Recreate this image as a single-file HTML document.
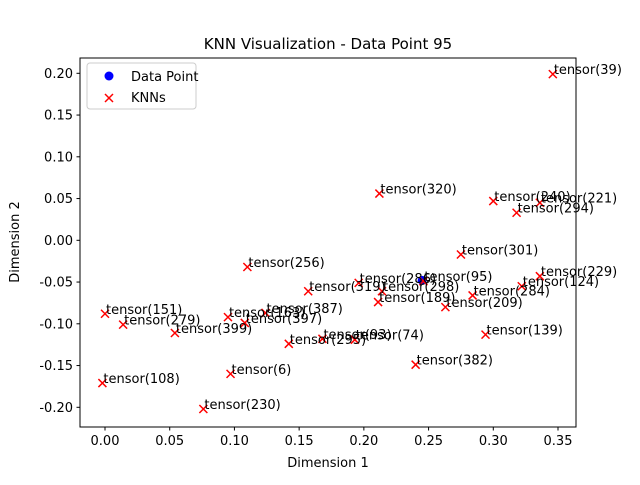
<!DOCTYPE html>
<html><head><meta charset="utf-8"><style>
body{margin:0;background:#fff;}
svg text{font-family:"DejaVu Sans","Liberation Sans",sans-serif;}
</style></head><body>
<svg id="chart" width="640" height="480" xmlns="http://www.w3.org/2000/svg">
<rect width="640" height="480" fill="#fff"/>
<text x="328" y="49" font-size="15" text-anchor="middle">KNN Visualization - Data Point 95</text>
<g id="plot"></g>
<rect x="80" y="58" width="496" height="369" fill="none" stroke="#000" stroke-width="1"/>
<text x="328" y="467" font-size="13" text-anchor="middle">Dimension 1</text>
<text x="19" y="242" font-size="13" text-anchor="middle" transform="rotate(-90 19 242)">Dimension 2</text>
<g>
<rect x="87" y="63" width="109" height="46" rx="3" fill="#fff" fill-opacity="0.8" stroke="#ccc"/>
<circle cx="109" cy="76" r="4.5" fill="#0000ff"/>
<text x="131" y="81" font-size="13">Data Point</text>
<path d="M105 94 l8 8 M113 94 l-8 8" stroke="#f00" stroke-width="1.5"/>
<text x="131" y="102" font-size="13">KNNs</text>
</g>
</svg>
<script>
const labels=[39,320,240,221,294,301,256,286,95,298,189,209,284,124,229,319,151,279,399,163,397,387,295,93,74,139,382,6,108,230];
const xs=[0.346,0.212,0.300,0.336,0.318,0.275,0.110,0.196,0.246,0.214,0.211,0.263,0.284,0.322,0.336,0.157,0.000,0.014,0.054,0.095,0.108,0.124,0.142,0.168,0.193,0.294,0.240,0.097,-0.002,0.076];
const ys=[0.199,0.056,0.047,0.045,0.033,-0.017,-0.032,-0.051,-0.049,-0.061,-0.074,-0.080,-0.066,-0.055,-0.043,-0.061,-0.088,-0.101,-0.111,-0.092,-0.099,-0.087,-0.124,-0.118,-0.119,-0.113,-0.149,-0.160,-0.171,-0.202];
const point=[0.245,-0.048];
const xTicks=[0.00,0.05,0.10,0.15,0.20,0.25,0.30,0.35];
const yTicks=[-0.20,-0.15,-0.10,-0.05,0.00,0.05,0.10,0.15,0.20];
const NS="http://www.w3.org/2000/svg";
const sx=v=>105+v*1294.3;
const sy=v=>240.3-v*835;
const g=document.getElementById('plot');
function mk(t,a){const e=document.createElementNS(NS,t);for(const k in a)e.setAttribute(k,a[k]);return e;}
xTicks.forEach(v=>{
 const l=mk('line',{x1:sx(v),x2:sx(v),y1:427,y2:430.5,stroke:'#000'});
 
 
 g.appendChild(l);
 const t=mk('text',{x:sx(v),y:445,'font-size':13,'text-anchor':'middle'});
 t.textContent=v.toFixed(2);
 
 
 g.appendChild(t);
});
yTicks.forEach(v=>{
 const l=mk('line',{x1:76.5,x2:80,y1:sy(v),y2:sy(v),stroke:'#000'});
 
 
 g.appendChild(l);
 const t=mk('text',{x:73,y:sy(v)+4.5,'font-size':13,'text-anchor':'end'});
 t.textContent=v.toFixed(2);
 
 
 g.appendChild(t);
});
const c=mk('circle',{cx:sx(point[0]),cy:sy(point[1]),r:4.5,fill:'#0000ff'});


g.appendChild(c);
xs.forEach((x,i)=>{
 const px=sx(x),py=sy(ys[i]);
 const m=mk('path',{d:`M${px-4} ${py-4} l8 8 M${px+4} ${py-4} l-8 8`,stroke:'#f00','stroke-width':1.5});
 
 
 g.appendChild(m);
});
xs.forEach((x,i)=>{
 const t=mk('text',{x:sx(x)+1,y:sy(ys[i]),'font-size':13});
 t.textContent='tensor('+labels[i]+')';
 
 
 g.appendChild(t);
});
</script>
</body></html>
